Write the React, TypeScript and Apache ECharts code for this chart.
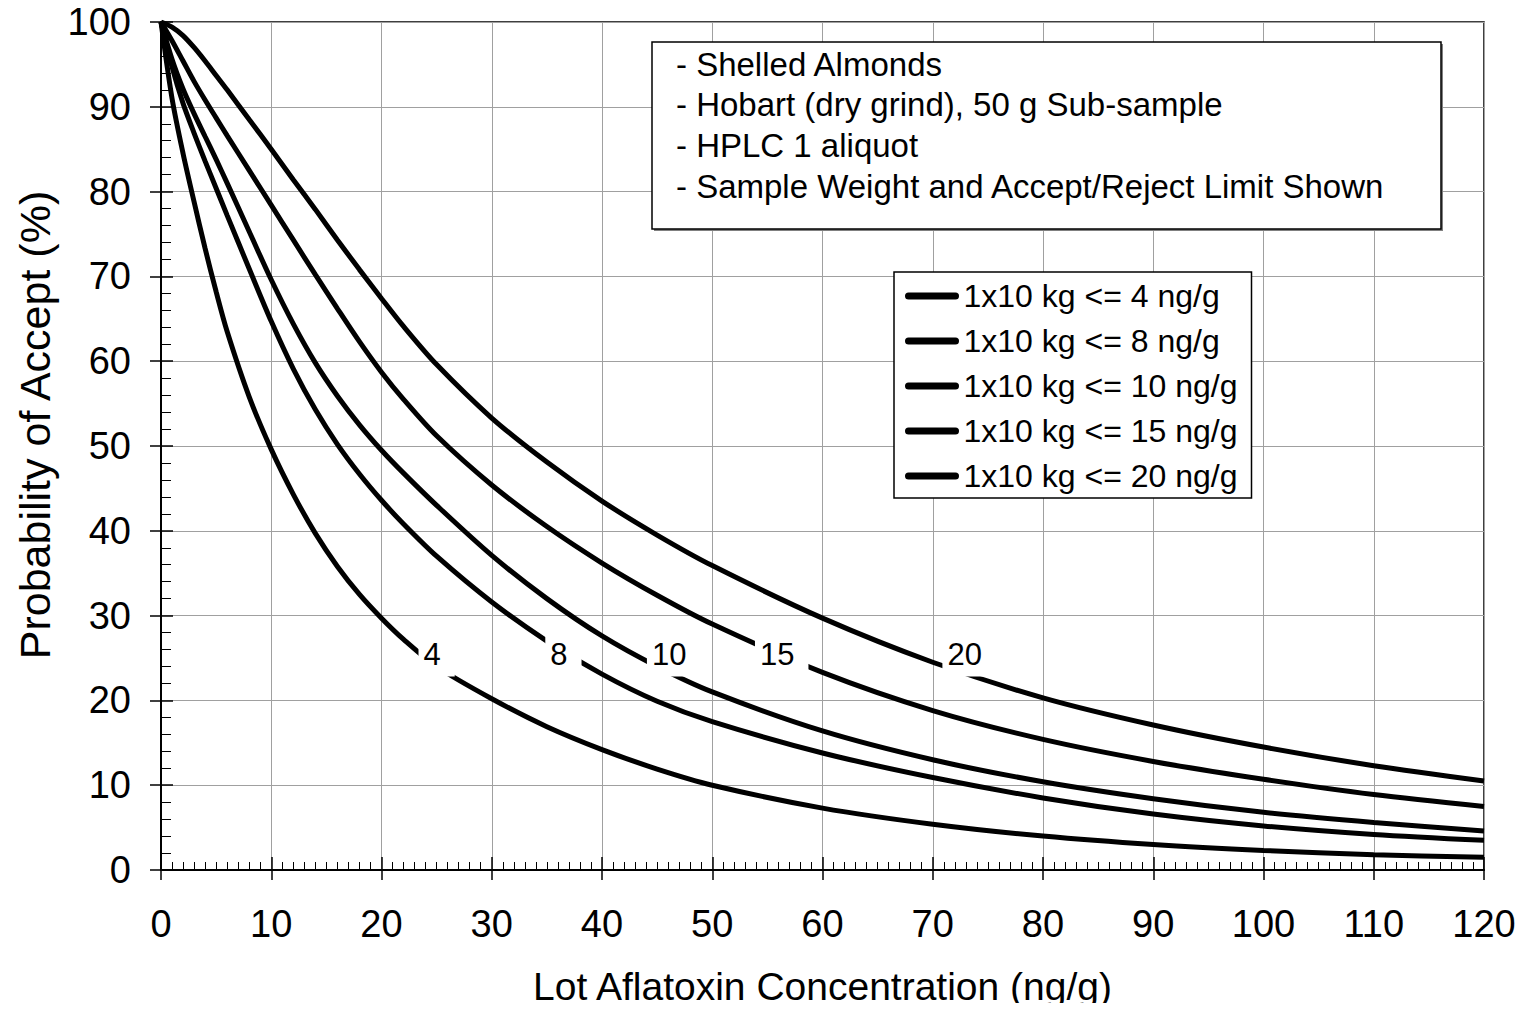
import React, { useEffect, useRef } from 'react';
import * as echarts from 'echarts';

// Lot aflatoxin concentration (ng/g) at which the curves are read
const xValues = [0, 1, 2, 3, 4, 5, 6, 8, 10, 12, 14, 16, 18, 20, 22, 25, 30, 35, 40, 45, 50, 60, 70, 80, 90, 100, 110, 120];

// Probability of accept (%) for each accept/reject limit
const accept4 = [100, 91, 84.5, 78.8, 73.3, 68.2, 63.5, 55.8, 49.6, 44.3, 39.7, 35.8, 32.5, 29.7, 27.2, 24.0, 20.2, 16.9, 14.2, 11.9, 10.0, 7.3, 5.4, 4.0, 3.0, 2.3, 1.8, 1.5];
const accept8 = [100, 94.7, 90.4, 86.9, 83.6, 80.4, 77.2, 70.9, 64.7, 59.1, 54.3, 50.2, 46.7, 43.6, 40.8, 37.0, 31.6, 27.0, 23.1, 19.9, 17.5, 13.8, 10.9, 8.5, 6.6, 5.2, 4.2, 3.5];
const accept10 = [100, 95.6, 92.1, 89.2, 86.5, 83.8, 81.0, 75.3, 69.6, 64.4, 59.8, 55.9, 52.5, 49.5, 46.8, 43.0, 37.1, 32.0, 27.6, 24.0, 21.0, 16.4, 13.0, 10.4, 8.4, 6.8, 5.6, 4.6];
const accept15 = [100, 97.8, 95.4, 93.0, 90.8, 88.7, 86.6, 82.5, 78.4, 74.3, 70.2, 66.2, 62.3, 58.7, 55.5, 51.2, 45.4, 40.5, 36.2, 32.4, 29.0, 23.3, 18.8, 15.4, 12.8, 10.7, 8.9, 7.5];
const accept20 = [100, 99.4, 98.4, 97.0, 95.4, 93.7, 92.0, 88.5, 85.0, 81.4, 77.9, 74.3, 70.8, 67.4, 64.1, 59.6, 53.3, 48.1, 43.5, 39.5, 35.9, 29.7, 24.5, 20.3, 17.1, 14.5, 12.3, 10.5];

const seriesNames = [
  '1x10 kg <= 4 ng/g',
  '1x10 kg <= 8 ng/g',
  '1x10 kg <= 10 ng/g',
  '1x10 kg <= 15 ng/g',
  '1x10 kg <= 20 ng/g',
];
const seriesValues = [accept4, accept8, accept10, accept15, accept20];

// In-line curve labels (accept/reject limit)
const curveLabels = ['4', '8', '10', '15', '20'];
const curveLabelX = [25.0, 36.5, 46.5, 56.3, 73.3];
const curveLabelY = [25.4, 25.4, 25.4, 25.4, 25.4];

const noteLines = [
  '- Shelled Almonds',
  '- Hobart (dry grind), 50 g Sub-sample',
  '- HPLC 1 aliquot',
  '- Sample Weight and Accept/Reject Limit Shown',
];

const FONT = "'Liberation Sans', Arial, Helvetica, sans-serif";

export default function App() {
  const ref = useRef<HTMLDivElement>(null);

  useEffect(() => {
    if (!ref.current) return;
    const chart = echarts.init(ref.current, undefined, { renderer: 'svg' });

    const tickColor = '#000';
    const gridColor = '#a0a0a0';

    const lineSeries = seriesValues.map((vals, s) => ({
      type: 'line',
      name: seriesNames[s],
      data: xValues.map((x, i) => [x, vals[i]]),
      symbol: 'none',
      smooth: 0.3,
      lineStyle: { color: '#000', width: 5 },
      itemStyle: { color: '#000' },
      z: 3,
    }));

    const labelSeries = {
      type: 'scatter',
      name: 'limits',
      data: curveLabels.map((n, i) => ({ name: n, value: [curveLabelX[i], curveLabelY[i]] })),
      symbol: 'circle',
      symbolSize: 1,
      itemStyle: { color: 'rgba(255,255,255,0)', opacity: 1 },
      silent: true,
      z: 6,
      label: {
        show: true,
        position: 'inside',
        formatter: '{b}',
        fontSize: 31,
        fontFamily: FONT,
        color: '#000',
        opacity: 1,
        backgroundColor: '#fff',
        padding: [7, 14, 6, 5],
        offset: [4.5, 0],
      },
      labelLayout: { hideOverlap: false },
    };

    const noteGraphics: any[] = [
      { type: 'rect', shape: { x: 654, y: 44, width: 789, height: 187 }, style: { fill: '#808080' }, z: 100 },
      { type: 'rect', shape: { x: 652, y: 42, width: 789, height: 187 }, style: { fill: '#fff', stroke: '#000', lineWidth: 1.5 }, z: 101 },
      ...noteLines.map((t, i) => ({
        type: 'text',
        x: 676,
        y: 64 + i * 40.8,
        z: 102,
        style: { text: t, font: `33px ${FONT}`, fill: '#000', textVerticalAlign: 'middle', textAlign: 'left' },
      })),
    ];

    const option: any = {
      animation: false,
      backgroundColor: '#fff',
      grid: {
        left: 161,
        right: 40,
        top: 22,
        bottom: 141,
        show: true,
        borderColor: '#000',
        borderWidth: 1.5,
        backgroundColor: 'transparent',
      },
      xAxis: [
        {
          type: 'value',
          min: 0,
          max: 120,
          interval: 10,
          position: 'bottom',
          axisLine: { show: true, lineStyle: { color: '#000', width: 2 } },
          axisTick: { show: true, length: 10, lineStyle: { color: tickColor, width: 1.5 } },
          minorTick: { show: false },
          axisLabel: { fontSize: 38, color: '#000', fontFamily: FONT, margin: 35 },
          splitLine: { show: true, lineStyle: { color: gridColor, width: 1 } },
          name: 'Lot Aflatoxin Concentration (ng/g)',
          nameLocation: 'middle',
          nameGap: 97,
          nameTextStyle: { fontSize: 39, color: '#000', fontFamily: FONT },
        },
        {
          type: 'value',
          min: 0,
          max: 120,
          interval: 10,
          position: 'bottom',
          axisLine: { show: false },
          axisTick: { show: true, inside: true, length: 13, lineStyle: { color: tickColor, width: 1.5 } },
          minorTick: { show: true, splitNumber: 10, length: 8, lineStyle: { color: tickColor, width: 1 } },
          axisLabel: { show: false },
          splitLine: { show: false },
        },
      ],
      yAxis: [
        {
          type: 'value',
          min: 0,
          max: 100,
          interval: 10,
          position: 'left',
          axisLine: { show: true, lineStyle: { color: '#000', width: 2 } },
          axisTick: { show: true, length: 11, lineStyle: { color: tickColor, width: 1.5 } },
          minorTick: { show: false },
          axisLabel: { fontSize: 38, color: '#000', fontFamily: FONT, margin: 30 },
          splitLine: { show: true, lineStyle: { color: gridColor, width: 1 } },
          name: 'Probability of Accept (%)',
          nameLocation: 'middle',
          nameGap: 105,
          nameTextStyle: { fontSize: 43, color: '#000', fontFamily: FONT, padding: [0, 0, 0, 42] },
        },
        {
          type: 'value',
          min: 0,
          max: 100,
          interval: 10,
          position: 'left',
          axisLine: { show: false },
          axisTick: { show: true, inside: true, length: 12, lineStyle: { color: tickColor, width: 1.5 } },
          minorTick: { show: true, splitNumber: 5, length: 10, lineStyle: { color: tickColor, width: 1 } },
          axisLabel: { show: false },
          splitLine: { show: false },
        },
      ],
      legend: {
        data: seriesNames,
        orient: 'vertical',
        left: 894,
        top: 272,
        padding: [8, 14, 6, 11],
        itemGap: 13,
        itemWidth: 47,
        itemHeight: 2,
        backgroundColor: '#fff',
        borderColor: '#000',
        borderWidth: 1.5,
        borderRadius: 0,
        lineStyle: { width: 7, cap: 'round', color: '#000' },
        itemStyle: { opacity: 0 },
        textStyle: { fontSize: 32, fontFamily: FONT, color: '#000', padding: [0, 0, 0, 3] },
        selectedMode: false,
        z: 20,
      },
      graphic: noteGraphics,
      series: [...lineSeries, labelSeries],
    };

    chart.setOption(option);
    return () => chart.dispose();
  }, []);

  return <div ref={ref} style={{ width: 1524, height: 1011, margin: -8 }} />;
}
